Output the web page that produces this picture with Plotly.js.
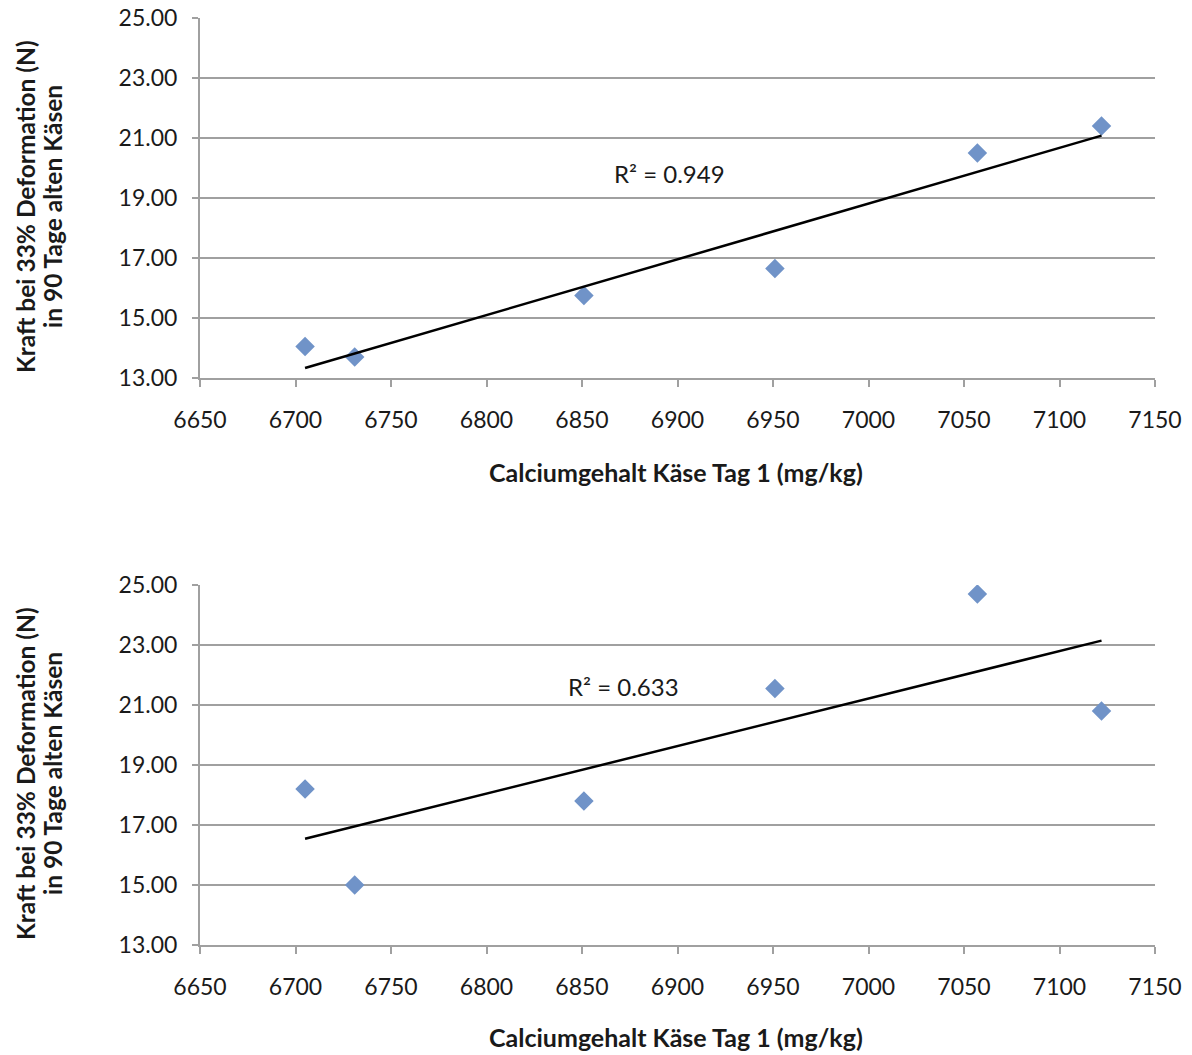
<!DOCTYPE html>
<html>
<head>
<meta charset="utf-8">
<script src="https://cdn.plot.ly/plotly-3.0.1.min.js"></script>
<style>html,body{margin:0;padding:0;background:#fff;}#chart{width:1192px;height:1055px;}</style>
</head>
<body>
<div id="chart"></div>
<script>
// Data
const calcium = [6705, 6731, 6851, 6951, 7057, 7122];
const kraftTop = [14.05, 13.7, 15.75, 16.65, 20.5, 21.4];
const kraftBottom = [18.2, 15.0, 17.8, 21.55, 24.7, 20.8];
const r2Labels = ["R² = 0.949", "R² = 0.633"];
const xTitle = "Calciumgehalt Käse Tag 1 (mg/kg)";
const yTitleLines = ["Kraft bei 33% Deformation (N)", "in 90 Tage alten Käsen"];

function linFit(xs, ys) {
  const n = xs.length;
  const mx = xs.reduce((a, b) => a + b, 0) / n;
  const my = ys.reduce((a, b) => a + b, 0) / n;
  let sxy = 0, sxx = 0;
  for (let i = 0; i < n; i++) { sxy += (xs[i] - mx) * (ys[i] - my); sxx += (xs[i] - mx) ** 2; }
  const m = sxy / sxx, b = my - m * mx;
  const x0 = Math.min(...xs), x1 = Math.max(...xs);
  return { x: [x0, x1], y: [m * x0 + b, m * x1 + b] };
}

const FONT = "Lato, 'Open Sans', sans-serif";
const TXT = "#1a1a1a";
const markerStyle = { symbol: "diamond", size: 15, color: "#7093c8" };
const fitTop = linFit(calcium, kraftTop);
const fitBot = linFit(calcium, kraftBottom);

const traces = [
  { x: calcium, y: kraftTop, mode: "markers", type: "scatter", marker: markerStyle, xaxis: "x", yaxis: "y" },
  { x: fitTop.x, y: fitTop.y, mode: "lines", type: "scatter", line: { color: "#000", width: 2.5 }, xaxis: "x", yaxis: "y" },
  { x: calcium, y: kraftBottom, mode: "markers", type: "scatter", marker: markerStyle, xaxis: "x2", yaxis: "y2" },
  { x: fitBot.x, y: fitBot.y, mode: "lines", type: "scatter", line: { color: "#000", width: 2.5 }, xaxis: "x2", yaxis: "y2" }
];

const W = 1192, H = 1055;
const px = v => v / W, py = v => 1 - v / H;

const xCommon = {
  range: [6650, 7150], dtick: 50, tick0: 6650,
  showgrid: false, zeroline: false,
  showline: true, linecolor: "#a0a0a0", linewidth: 2,
  ticks: "outside", ticklen: 7, tickwidth: 2, tickcolor: "#a0a0a0",
  tickfont: { family: FONT, size: 23, color: TXT },
  ticklabelstandoff: 13,
  domain: [px(200), px(1155)], fixedrange: true
};
const yCommon = {
  range: [13, 25], dtick: 2, tick0: 13, tickformat: ".2f",
  showgrid: true, gridcolor: "#a0a0a0", gridwidth: 2, zeroline: false,
  showline: true, linecolor: "#a0a0a0", linewidth: 2,
  ticks: "outside", ticklen: 6, tickwidth: 2, tickcolor: "#a0a0a0",
  tickfont: { family: FONT, size: 23, color: TXT },
  ticklabelstandoff: 10, fixedrange: true
};

function ann(text, x, y, size, extra) {
  return Object.assign({ text: text, xref: "paper", yref: "paper", x: px(x), y: py(y), showarrow: false,
    xanchor: "center", yanchor: "middle", font: { family: FONT, size: size, color: TXT } }, extra || {});
}

const layout = {
  width: W, height: H,
  margin: { l: 0, r: 0, t: 0, b: 0 },
  paper_bgcolor: "#fff", plot_bgcolor: "#fff",
  showlegend: false,
  xaxis: Object.assign({}, xCommon, { anchor: "y" }),
  yaxis: Object.assign({}, yCommon, { anchor: "x", domain: [py(378), py(18)] }),
  xaxis2: Object.assign({}, xCommon, { anchor: "y2" }),
  yaxis2: Object.assign({}, yCommon, { anchor: "x2", domain: [py(945), py(585)] }),
  annotations: [
    ann(r2Labels[0], 669, 173, 24),
    ann(r2Labels[1], 623, 686, 24),
    ann("<b>" + xTitle + "</b>", 676, 472, 25),
    ann("<b>" + xTitle + "</b>", 676, 1037, 25),
    ann("<b>" + yTitleLines[0] + "</b>", 25, 207, 24.5, { textangle: -90 }),
    ann("<b>" + yTitleLines[1] + "</b>", 52, 207, 24.5, { textangle: -90 }),
    ann("<b>" + yTitleLines[0] + "</b>", 25, 774, 24.5, { textangle: -90 }),
    ann("<b>" + yTitleLines[1] + "</b>", 52, 774, 24.5, { textangle: -90 })
  ]
};

Plotly.newPlot("chart", traces, layout, { displayModeBar: false, staticPlot: true });
</script>
</body>
</html>
